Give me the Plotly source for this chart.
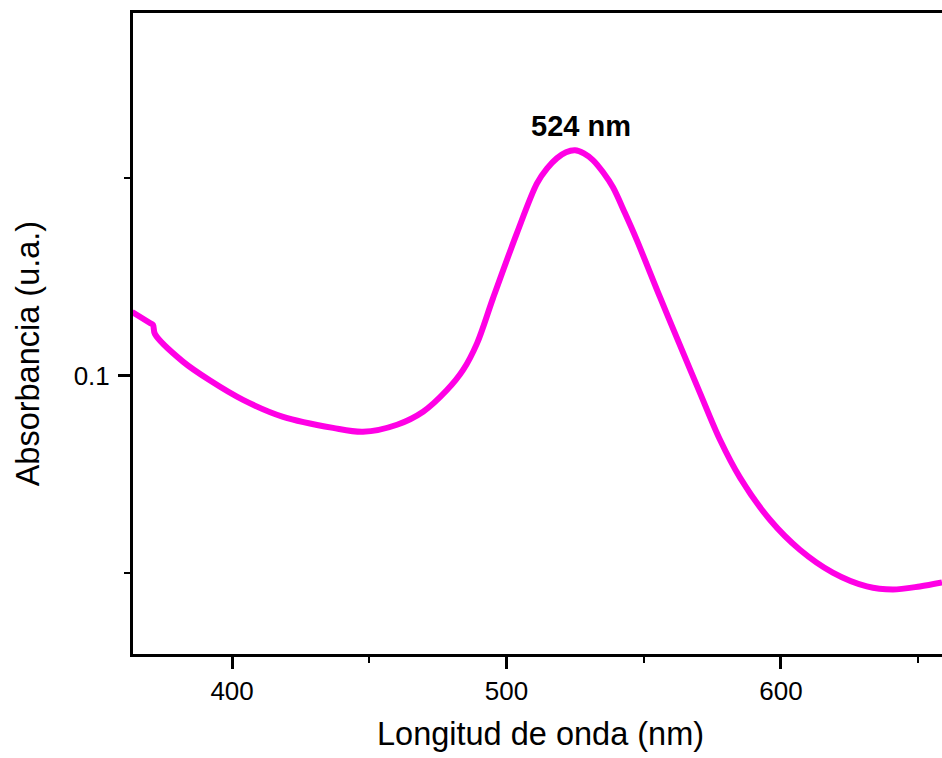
import plotly.graph_objects as go

wavelength_nm = [363.6, 370.1, 371.2, 371.9, 382.1, 392.0, 404.0, 418.6, 436.8, 447.7,
                 460.1, 469.6, 478.3, 484.2, 489.3, 495.1, 503.8, 511.1, 514.8, 518.4,
                 521.7, 525.0, 528.2, 531.5, 535.2, 538.8, 543.2, 547.5, 555.9, 563.2,
                 570.5, 577.8, 585.1, 596.0, 606.9, 618.9, 631.3, 640.8, 650.6, 658.7]
absorbance = [0.1161, 0.1133, 0.1128, 0.1105, 0.1035, 0.0987, 0.0938, 0.0895, 0.0867, 0.0857,
              0.0875, 0.0908, 0.0963, 0.1014, 0.1082, 0.1196, 0.1361, 0.1487, 0.1525, 0.1551,
              0.1566, 0.1571, 0.1563, 0.1546, 0.1515, 0.1477, 0.1411, 0.1343, 0.1199, 0.1077,
              0.0956, 0.0837, 0.0741, 0.0634, 0.0558, 0.0500, 0.0465, 0.0457, 0.0465, 0.0475]

peak_label = "524 nm"
peak_pos = (527.0, 0.1632)
x_title = "Longitud de onda (nm)"
y_title = "Absorbancia (u.a.)"

FONT = "Liberation Sans, Arial, sans-serif"

fig = go.Figure()
fig.add_trace(go.Scatter(
    x=wavelength_nm, y=absorbance, mode="lines",
    line=dict(color="#FF00E5", width=6, shape="spline", smoothing=0.9),
    showlegend=False,
))

fig.add_annotation(x=peak_pos[0], y=peak_pos[1], text="<b>" + peak_label + "</b>",
                   showarrow=False, font=dict(family=FONT, size=29, color="black"),
                   xanchor="center", yanchor="middle")

# axis titles as annotations (positioned like the reference)
fig.add_annotation(x=0.504, y=0, xref="paper", yref="paper", text=x_title,
                   showarrow=False, font=dict(family=FONT, size=32.5, color="black"),
                   xanchor="center", yanchor="middle", yshift=-80)
fig.add_annotation(x=0, y=0.469, xref="paper", yref="paper", text=y_title,
                   showarrow=False, textangle=-90, font=dict(family=FONT, size=32.5, color="black"),
                   xanchor="center", yanchor="middle", xshift=-105)

fig.update_layout(
    width=942, height=758,
    margin=dict(l=133, r=0, t=12.5, b=103.5),
    paper_bgcolor="white", plot_bgcolor="white",
    font=dict(family=FONT, color="black"),
)

fig.update_xaxes(
    range=[363.9, 658.7],
    showgrid=False, zeroline=False,
    showline=True, linecolor="black", linewidth=3, mirror=True,
    ticks="outside", ticklen=12, tickwidth=3, tickcolor="black",
    tick0=0, dtick=100,
    tickfont=dict(family=FONT, size=26, color="black"),
    minor=dict(ticks="outside", ticklen=6, tickwidth=2, tickcolor="black", tick0=0, dtick=50, showgrid=False),
)

fig.update_yaxes(
    range=[0.02937, 0.1919],
    showgrid=False, zeroline=False,
    showline=True, linecolor="black", linewidth=3, mirror=False,
    ticks="outside", ticklen=12, tickwidth=3, tickcolor="black",
    tick0=0, dtick=0.1, tickformat=".1f",
    tickfont=dict(family=FONT, size=26, color="black"),
    ticklabelstandoff=3,
    minor=dict(ticks="outside", ticklen=6, tickwidth=2, tickcolor="black", tick0=0, dtick=0.05, showgrid=False),
)

fig.write_html("out.html",
               config={"displayModeBar": False},
               post_script="document.body.style.margin='0';document.body.style.overflow='hidden';")
